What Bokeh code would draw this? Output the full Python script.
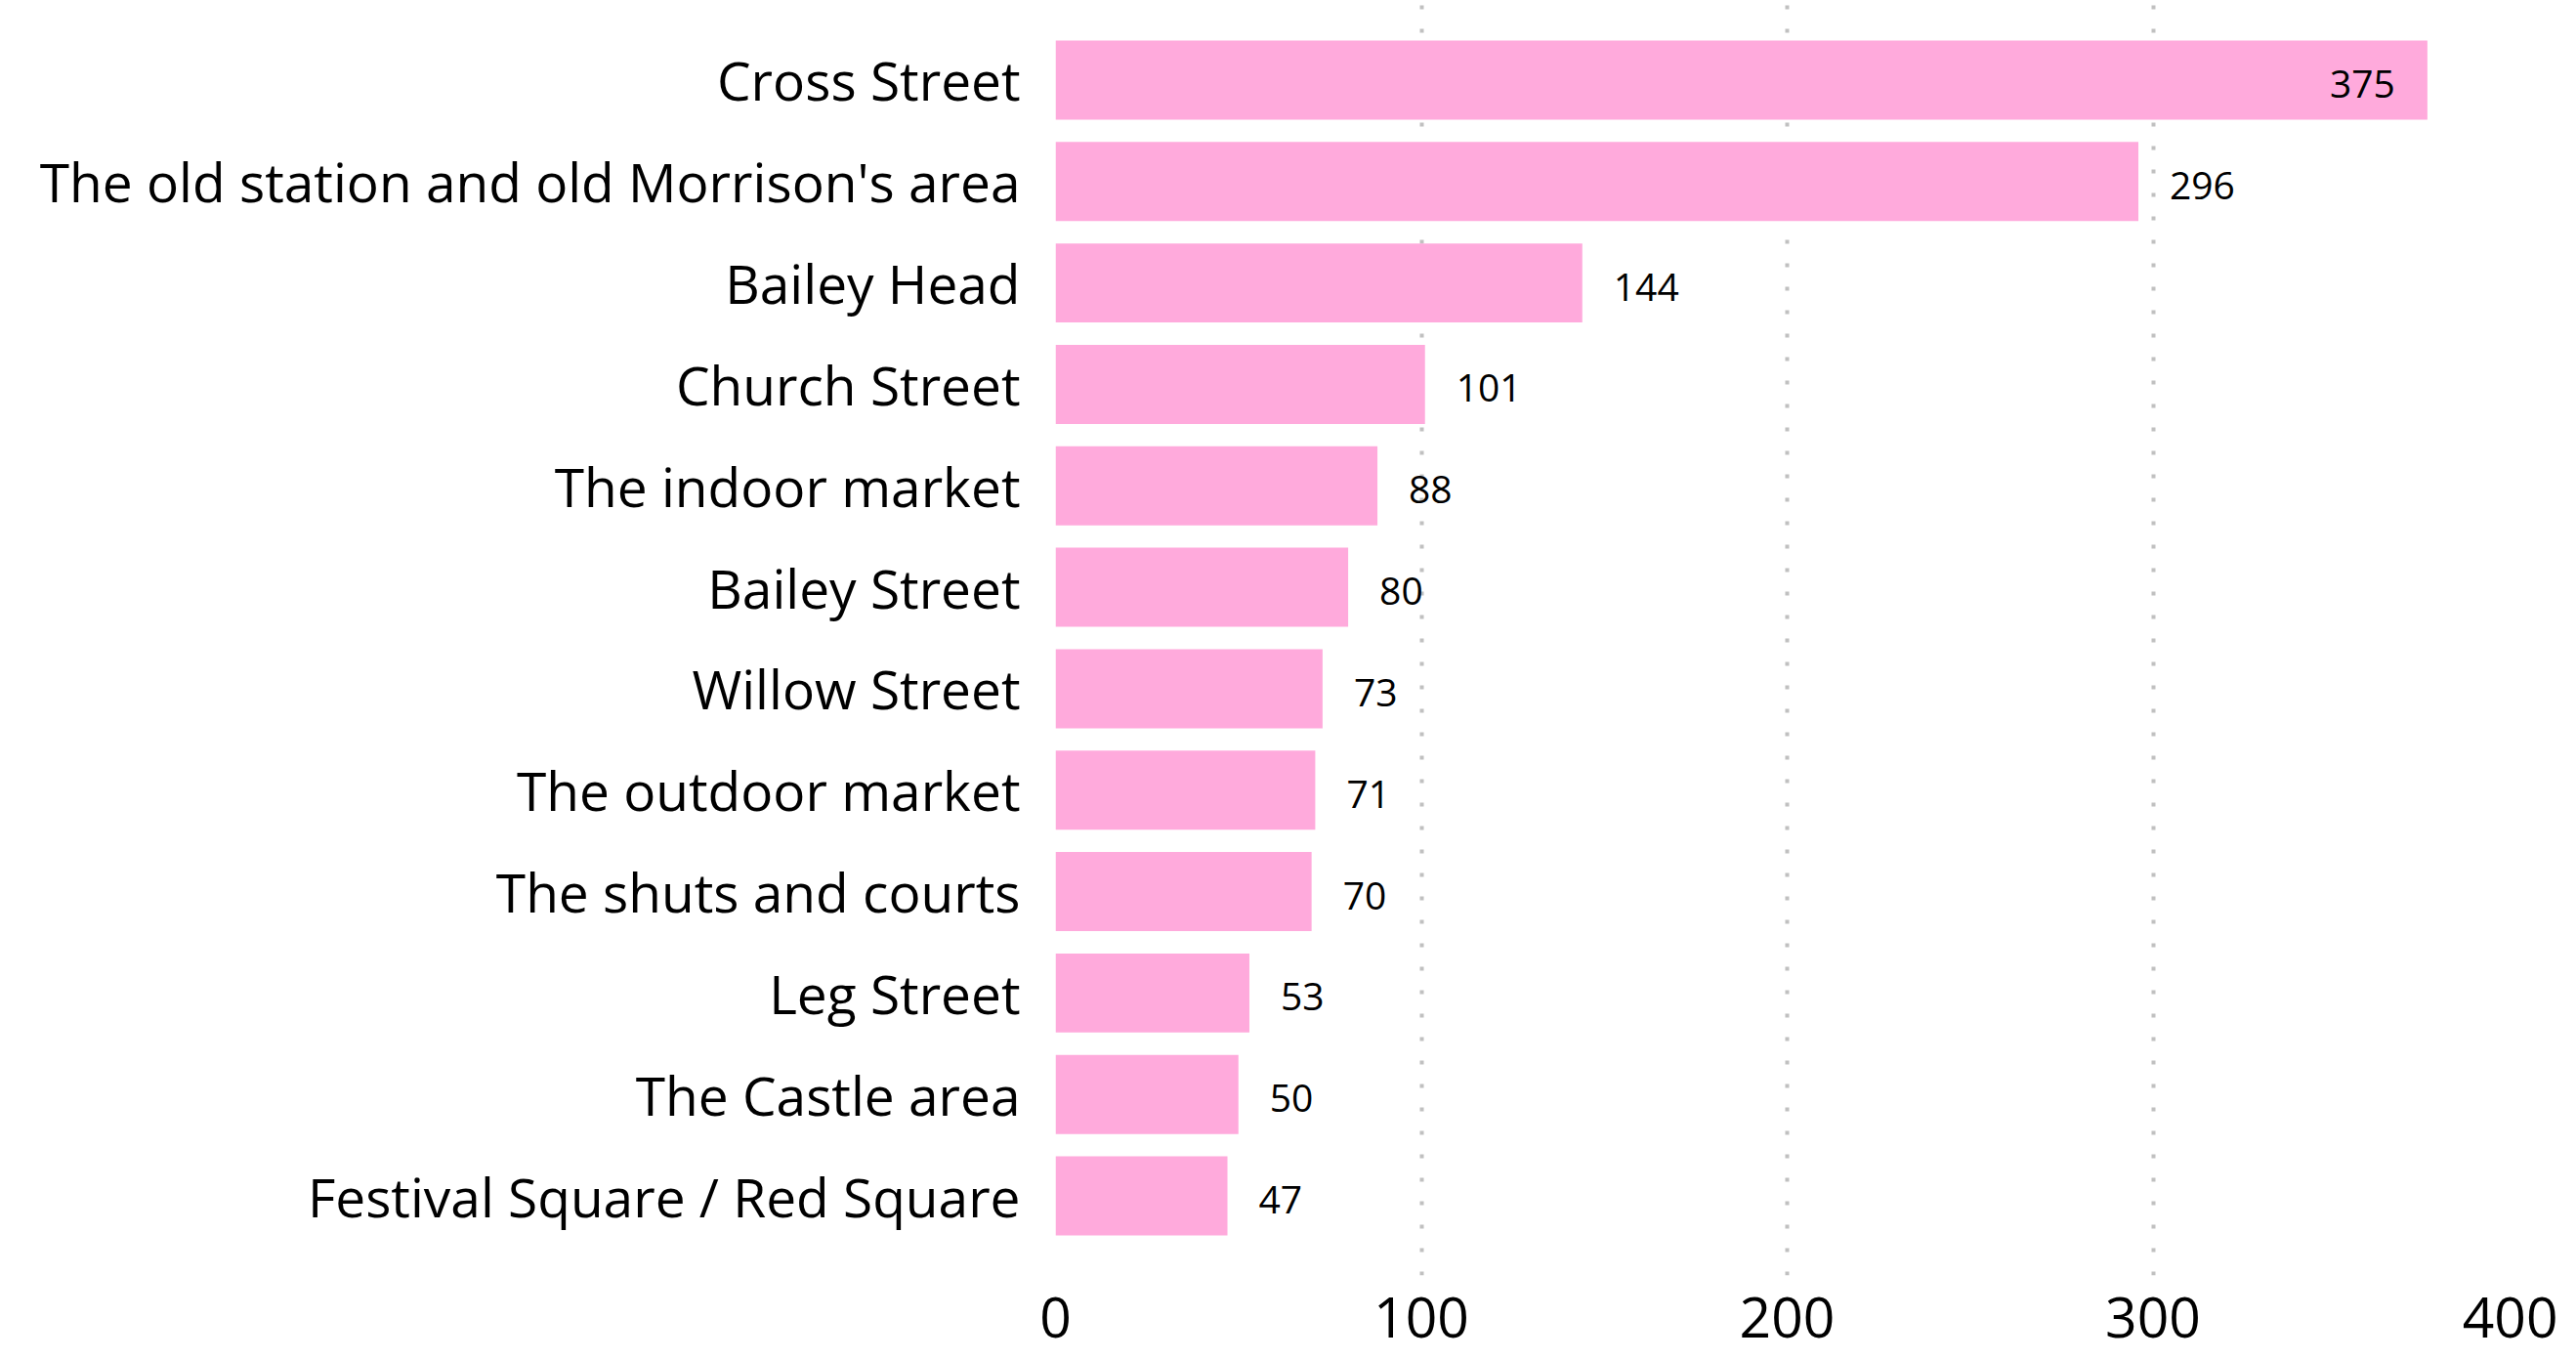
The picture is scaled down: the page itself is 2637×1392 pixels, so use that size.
from bokeh.plotting import figure
from bokeh.models import ColumnDataSource, FactorRange, Range1d, FixedTicker
from bokeh.core.properties import value
from bokeh.embed import file_html
from bokeh.resources import INLINE

categories = ["Cross Street", "The old station and old Morrison's area", "Bailey Head",
              "Church Street", "The indoor market", "Bailey Street", "Willow Street",
              "The outdoor market", "The shuts and courts", "Leg Street",
              "The Castle area", "Festival Square / Red Square"]
counts = [375, 296, 144, 101, 88, 80, 73, 71, 70, 53, 50, 47]
x_ticks = [0, 100, 200, 300, 400]

FONT = "Open Sans"
BAR = "#FFAADC"

cats_rev = list(reversed(categories))
inside = [c >= 350 for c in counts]
src = ColumnDataSource(dict(cat=categories, val=counts))
src_in = ColumnDataSource(dict(cat=[c for c, i in zip(categories, inside) if i],
                               val=[v for v, i in zip(counts, inside) if i],
                               lbl=[str(v) for v, i in zip(counts, inside) if i]))
src_out = ColumnDataSource(dict(cat=[c for c, i in zip(categories, inside) if not i],
                                val=[v for v, i in zip(counts, inside) if not i],
                                lbl=[str(v) for v, i in zip(counts, inside) if not i]))

yr = FactorRange(factors=cats_rev, range_padding=0.285, range_padding_units="absolute")
p = figure(frame_width=1498, frame_height=1305, y_range=yr, x_range=Range1d(0, 400),
           output_backend="svg", toolbar_location=None,
           min_border_left=1080, min_border_right=40, min_border_top=0, min_border_bottom=87)
p.outline_line_color = None
p.background_fill_color = "white"

p.hbar(y="cat", right="val", left=0, height=0.78, source=src, fill_color=BAR, line_color=None)

p.text(x="val", y="cat", text="lbl", source=src_out, x_offset=32, y_offset=4,
       text_align="left", text_baseline="middle", text_font=value(FONT),
       text_font_size="39px", text_color="black")
p.text(x="val", y="cat", text="lbl", source=src_in, x_offset=-33, y_offset=4,
       text_align="right", text_baseline="middle", text_font=value(FONT),
       text_font_size="39px", text_color="black")

p.xaxis.ticker = FixedTicker(ticks=x_ticks)
p.xaxis.axis_line_color = None
p.xaxis.major_tick_line_color = None
p.xaxis.minor_tick_line_color = None
p.xaxis.major_tick_out = 0
p.xaxis.major_tick_in = 0
p.xaxis.major_label_text_font = FONT
p.xaxis.major_label_text_font_size = "57px"
p.xaxis.major_label_text_color = "black"
p.xaxis.major_label_standoff = 22

p.yaxis.axis_line_color = None
p.yaxis.major_tick_line_color = None
p.yaxis.major_tick_out = 0
p.yaxis.major_tick_in = 0
p.yaxis.major_label_text_font = FONT
p.yaxis.major_label_text_font_size = "55px"
p.yaxis.major_label_text_color = "black"
p.yaxis.major_label_standoff = 36

p.ygrid.grid_line_color = None
p.xgrid.ticker = FixedTicker(ticks=x_ticks)
p.xgrid.grid_line_color = "#c0c0c0"
p.xgrid.grid_line_width = 4
p.xgrid.grid_line_dash = "4 20"

open("out.html", "w").write(file_html(p, INLINE))
